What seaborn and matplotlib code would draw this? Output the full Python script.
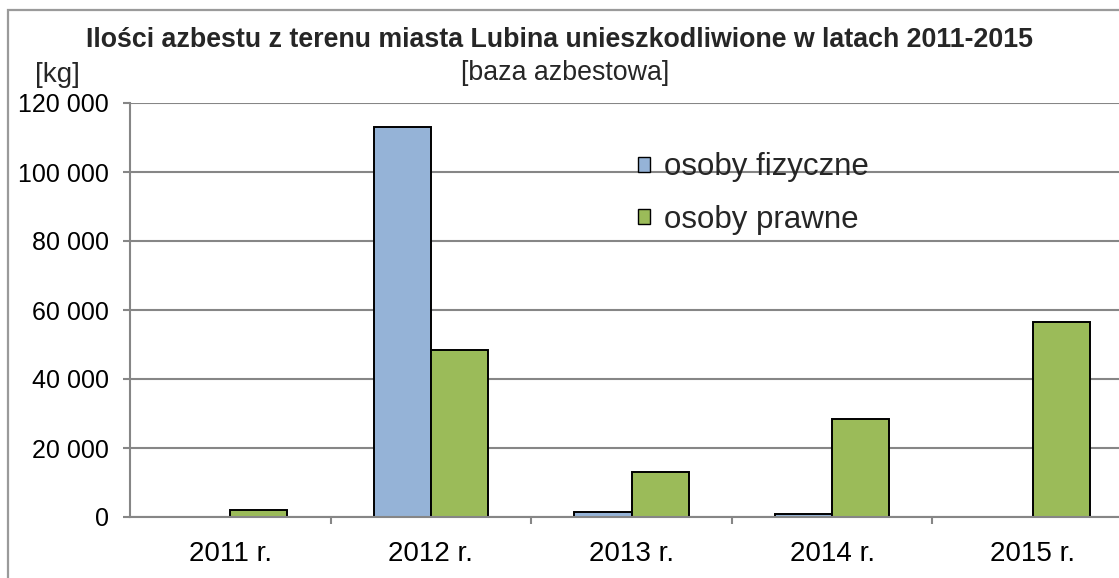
import matplotlib
matplotlib.use("Agg")
import matplotlib.pyplot as plt
from matplotlib.patches import Rectangle
from matplotlib.ticker import FuncFormatter, FixedLocator
import seaborn as sns
import pandas as pd

years = ["2011 r.", "2012 r.", "2013 r.", "2014 r.", "2015 r."]
osoby_fizyczne = [0, 113000, 1500, 900, 0]
osoby_prawne = [2000, 48500, 13000, 28300, 56400]
series_names = ["osoby fizyczne", "osoby prawne"]
palette = ["#95B3D7", "#9BBB59"]

df = pd.DataFrame({
    "rok": years * 2,
    "kg": osoby_fizyczne + osoby_prawne,
    "grupa": [series_names[0]] * len(years) + [series_names[1]] * len(years),
})

sns.set_theme(style="white")
plt.rcParams["font.family"] = ["Liberation Sans", "DejaVu Sans"]

W, H = 1119, 578
fig = plt.figure(figsize=(W / 100, H / 100), dpi=100)
fig.patch.set_facecolor("white")

# outer chart frame
fig.add_artist(Rectangle((8 / W, -0.1), 1.2, 1 - 10 / H + 0.1, transform=fig.transFigure,
                         fill=False, edgecolor="#9a9a9a", linewidth=1.6))

ax_left, ax_right, ax_top, ax_bottom = 130, 1119, 103, 517
ax = fig.add_axes([ax_left / W, 1 - ax_bottom / H, (ax_right - ax_left) / W, (ax_bottom - ax_top) / H])

sns.barplot(data=df, x="rok", y="kg", hue="grupa", palette=palette, width=0.57,
            edgecolor="black", linewidth=1.4, ax=ax, saturation=1)

grid_col = "#868686"
ax.yaxis.set_major_locator(FixedLocator(range(0, 120001, 20000)))
ax.yaxis.set_major_formatter(FuncFormatter(lambda v, p: f"{int(v):,}".replace(",", " ")))
ax.grid(axis="y", color=grid_col, linewidth=1.5)
ax.set_axisbelow(True)
for s in ["top", "right"]:
    ax.spines[s].set_visible(False)
ax.spines["left"].set_color(grid_col)
ax.spines["left"].set_linewidth(1.5)
ax.spines["bottom"].set_color(grid_col)
ax.spines["bottom"].set_linewidth(1.5)

ax.tick_params(axis="y", which="major", left=True, length=5, width=1.5, color=grid_col,
               labelsize=18, pad=10, labelcolor="black")
ax.tick_params(axis="x", which="major", bottom=False, labelsize=20, pad=11, labelcolor="black")
# category separators on the x axis
ax.set_xticks([i - 0.5 for i in range(1, len(years))], minor=True)
ax.tick_params(axis="x", which="minor", bottom=True, length=5, width=1.5, color=grid_col)

ax.set_xlim(-0.5, 4.43)
ax.set_ylim(0, 120000)
ax.set_xlabel("")
ax.set_ylabel("")

sns.move_legend(ax, "upper left", bbox_to_anchor=(0.514, 0.881), frameon=False,
                title=None, fontsize=22.5, handlelength=0.36, handleheight=0.36,
                handletextpad=0.45, labelspacing=0.73, borderaxespad=0, borderpad=0)
for h in ax.get_legend().legend_handles:
    h.set_edgecolor("black")
    h.set_linewidth(1.0)

fig.text(560 / W, 1 - 40 / H, "Ilości azbestu z terenu miasta Lubina unieszkodliwione w latach 2011-2015",
         ha="center", va="center", fontsize=19.3, fontweight="bold")
fig.text(565 / W, 1 - 72.5 / H, "[baza azbestowa]", ha="center", va="center", fontsize=19.3)
fig.text(57 / W, 1 - 75 / H, "[kg]", ha="center", va="center", fontsize=20)

fig.savefig("out.png", dpi=100)
